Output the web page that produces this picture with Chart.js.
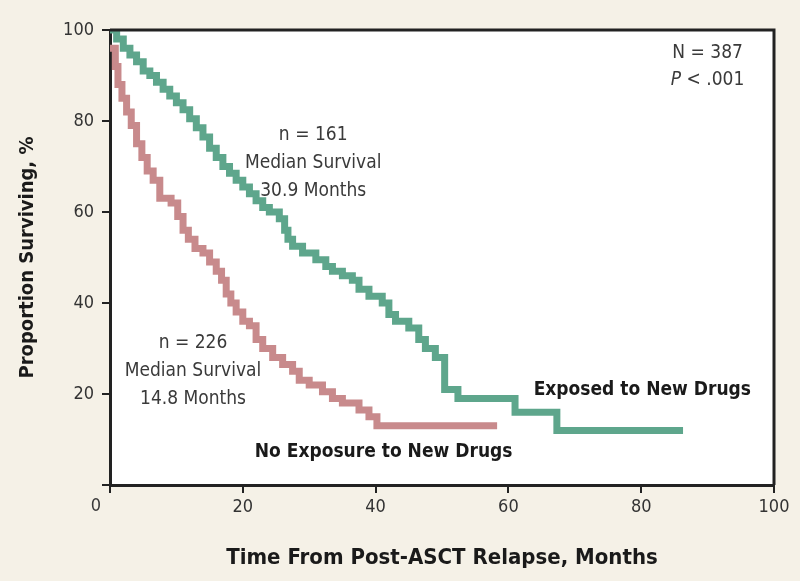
<!DOCTYPE html>
<html>
<head>
<meta charset="utf-8">
<script src="https://cdn.jsdelivr.net/npm/chart.js@4.4.1/dist/chart.umd.min.js"></script>
<style>
  html, body { margin: 0; padding: 0; background: #f5f1e7; }
  #wrap { width: 800px; height: 581px; }
</style>
</head>
<body>
<div id="wrap"><canvas id="km" width="800" height="581"></canvas></div>
<script>
// Kaplan-Meier: Zeit (Monate) und Überlebensanteil (%)
const exposedMonths = [0, 1, 2, 3, 4, 5, 6, 7, 8, 9, 10, 11, 12, 13, 14, 15, 16, 17, 18, 19, 20, 21, 22, 23, 24, 25.5, 26.3, 26.8, 27.5, 29, 31, 32.5, 33.5, 35, 36.5, 37.5, 39, 41, 42, 43, 45, 46.5, 47.5, 49, 50.4, 52.4, 61, 67.3, 86.3];
const exposedSurv   = [100, 98, 96, 94.5, 93, 91, 90, 88.5, 87, 85.5, 84, 82.5, 80.5, 78.5, 76.5, 74, 72, 70, 68.5, 67, 65.5, 64, 62.5, 61, 60, 58.5, 56, 54, 52.5, 51, 49.5, 48, 47, 46, 45, 43, 41.5, 40, 37.5, 36, 34.5, 32, 30, 28, 21, 19, 16, 12, 12];

const noExpMonths = [0, 0.8, 1.2, 1.8, 2.5, 3.2, 4, 4.8, 5.6, 6.5, 7.5, 9.2, 10.2, 11, 11.8, 12.8, 14, 15, 16, 16.8, 17.5, 18.2, 19, 20, 21, 22, 23, 24.5, 26, 27.5, 28.5, 30, 32, 33.5, 35, 37.5, 39, 40.2, 58.3];
const noExpSurv   = [96, 92, 88, 85, 82, 79, 75, 72, 69, 67, 63, 62, 59, 56, 54, 52, 51, 49, 47, 45, 42, 40, 38, 36, 35, 32, 30, 28, 26.5, 25, 23, 22, 20.5, 19, 18, 16.5, 15, 13, 13];

const xTicks = [0, 20, 40, 60, 80, 100];
const yTicks = [0, 20, 40, 60, 80, 100];

const FONT = "'Liberation Sans Narrow', 'DejaVu Sans Condensed', 'Arial Narrow', sans-serif";
const GREEN = 'rgb(94, 166, 140)';
const PINK = 'rgb(200, 138, 140)';

function toPoints(xs, ys) {
  return xs.map((x, i) => ({ x: x, y: ys[i] }));
}

// Hintergrund + Rahmen oben/rechts
const plotFrame = {
  id: 'plotFrame',
  beforeDraw(chart) {
    const { ctx, chartArea: a } = chart;
    ctx.save();
    ctx.fillStyle = '#ffffff';
    ctx.fillRect(a.left, a.top, a.right - a.left, a.bottom - a.top);
    ctx.restore();
  },
  afterDraw(chart) {
    const { ctx, chartArea: a } = chart;
    ctx.save();
    ctx.strokeStyle = '#222';
    ctx.lineWidth = 3;
    ctx.beginPath();
    ctx.moveTo(a.left, a.top);
    ctx.lineTo(a.right, a.top);
    ctx.lineTo(a.right, a.bottom);
    ctx.stroke();
    ctx.restore();
  }
};

// Beschriftungen im Diagramm
const notes = [
  { lines: ['n = 161', 'Median Survival', '30.9 Months'], x: 30.6, y: 77, bold: false, align: 'center' },
  { lines: ['n = 226', 'Median Survival', '14.8 Months'], x: 12.5, y: 31.2, bold: false, align: 'center' },
  { lines: ['Exposed to New Drugs'], x: 63.8, y: 20.9, bold: true, align: 'left' },
  { lines: ['No Exposure to New Drugs'], x: 21.8, y: 7.3, bold: true, align: 'left' }
];

const textPlugin = {
  id: 'textPlugin',
  afterDatasetsDraw(chart) {
    const { ctx, scales: { x, y } } = chart;
    ctx.save();
    ctx.textBaseline = 'middle';
    notes.forEach(n => {
      ctx.font = n.bold ? 'bold 19px ' + FONT : '19px ' + FONT;
      ctx.fillStyle = n.bold ? '#1a1a1a' : '#3a3a3a';
      ctx.textAlign = n.align;
      const px = x.getPixelForValue(n.x);
      const py = y.getPixelForValue(n.y);
      n.lines.forEach((t, i) => ctx.fillText(t, px, py + i * 28));
    });

    // N und P oben rechts
    ctx.fillStyle = '#3a3a3a';
    ctx.textAlign = 'center';
    ctx.font = '19px ' + FONT;
    const cx = x.getPixelForValue(90);
    ctx.fillText('N = 387', cx, y.getPixelForValue(95));
    const rest = ' < .001';
    ctx.font = 'italic 19px ' + FONT;
    const wp = ctx.measureText('P').width;
    ctx.font = '19px ' + FONT;
    const wr = ctx.measureText(rest).width;
    const sx = cx - (wp + wr) / 2;
    const py2 = y.getPixelForValue(89);
    ctx.textAlign = 'left';
    ctx.font = 'italic 19px ' + FONT;
    ctx.fillText('P', sx, py2);
    ctx.font = '19px ' + FONT;
    ctx.fillText(rest, sx + wp, py2);

    // gemeinsame 0 am Ursprung
    ctx.textAlign = 'center';
    ctx.font = '18px ' + FONT;
    ctx.fillText('0', x.left - 14, y.bottom + 21);
    ctx.restore();
  }
};

const ctx = document.getElementById('km').getContext('2d');
const grafik = new Chart(ctx, {
  type: 'line',
  data: {
    datasets: [
      {
        label: 'Exposed to New Drugs',
        data: toPoints(exposedMonths, exposedSurv),
        borderColor: GREEN,
        borderWidth: 7,
        stepped: 'before',
        pointRadius: 0,
        fill: false,
        order: 0
      },
      {
        label: 'No Exposure to New Drugs',
        data: toPoints(noExpMonths, noExpSurv),
        borderColor: PINK,
        borderWidth: 7,
        stepped: 'before',
        pointRadius: 0,
        fill: false,
        order: 1
      }
    ]
  },
  options: {
    responsive: false,
    animation: false,
    devicePixelRatio: 1,
    layout: { padding: { left: 10, right: 26, top: 30, bottom: 0 } },
    plugins: { legend: { display: false }, tooltip: { enabled: false } },
    scales: {
      x: {
        type: 'linear',
        min: 0, max: 100,
        afterBuildTicks: s => { s.ticks = xTicks.map(v => ({ value: v })); },
        afterFit: s => { s.height = 96; },
        ticks: {
          callback: v => v === 0 ? '' : v,
          color: '#333',
          font: { family: FONT, size: 18 },
          padding: 4,
          maxRotation: 0
        },
        grid: { drawOnChartArea: false, drawTicks: true, tickLength: 8, color: '#222', lineWidth: 2 },
        border: { display: true, color: '#222', width: 3 },
        title: {
          display: true,
          text: 'Time From Post-ASCT Relapse, Months',
          color: '#1a1a1a',
          font: { family: FONT, size: 22, weight: 'bold' },
          padding: { top: 0, bottom: 10 }
        }
      },
      y: {
        min: 0, max: 100,
        afterBuildTicks: s => { s.ticks = yTicks.map(v => ({ value: v })); },
        afterFit: s => { s.width = 100; },
        ticks: {
          callback: v => v === 0 ? '' : v,
          color: '#333',
          font: { family: FONT, size: 18 },
          padding: 8
        },
        grid: { drawOnChartArea: false, drawTicks: true, tickLength: 8, color: '#222', lineWidth: 2 },
        border: { display: true, color: '#222', width: 3 },
        title: {
          display: true,
          text: 'Proportion Surviving, %',
          color: '#1a1a1a',
          font: { family: FONT, size: 20, weight: 'bold' },
          padding: { top: 6, bottom: 0 }
        }
      }
    }
  },
  plugins: [plotFrame, textPlugin]
});
</script>
</body>
</html>
